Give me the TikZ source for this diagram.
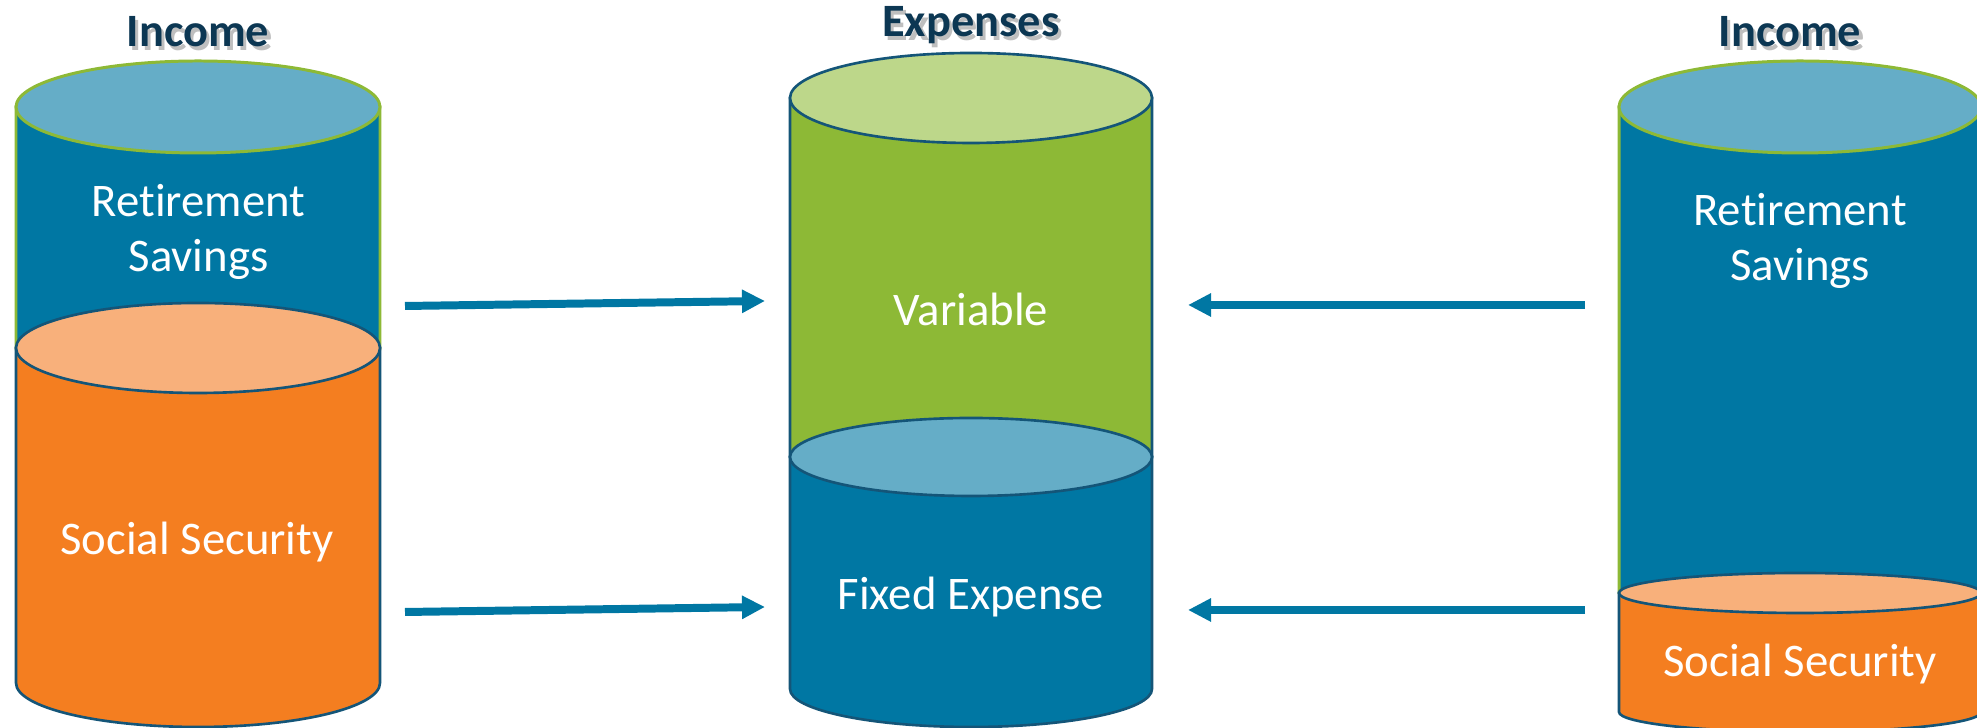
\documentclass[tikz,border=0pt]{standalone}
\usepackage{fontspec}
\setmainfont[Ligatures=NoCommon]{Carlito}
\usetikzlibrary{arrows.meta}

\definecolor{tankblue}{RGB}{0,119,163}
\definecolor{tanklightblue}{RGB}{101,173,199}
\definecolor{tankorange}{RGB}{244,126,32}
\definecolor{tanklightorange}{RGB}{248,176,123}
\definecolor{tankgreen}{RGB}{141,185,54}
\definecolor{tanklightgreen}{RGB}{189,215,138}
\definecolor{rimdark}{RGB}{20,85,120}
\definecolor{headnavy}{RGB}{12,55,83}

% heading text with a soft drop shadow
\newcommand{\shadowed}[1]{\rlap{\hspace{0.9pt}\raisebox{-0.9pt}{\color{black!25}#1}}#1}

\tikzset{
  heading/.style={font=\fontsize{13.2}{15}\selectfont\bfseries, text=headnavy, inner sep=0pt, anchor=base},
  tanklabel/.style={font=\fontsize{13.3}{15.9}\selectfont, text=white, inner sep=0pt, align=center},
  flow/.style={draw=tankblue, line width=2.27pt, -{Triangle[length=0.23cm, width=0.22cm]}},
  greenrim/.style={draw=tankgreen, line width=0.85pt},
  darkrim/.style={draw=rimdark, line width=0.75pt}
}

\begin{document}
\begin{tikzpicture}
    \useasboundingbox (0,0) rectangle (19.77,7.28);

    % left income tank
    \filldraw[greenrim, fill=tankblue] (0.16,6.21) -- (0.16,3.80) arc[start angle=180, end angle=360, x radius=1.82, y radius=0.45] -- (3.80,6.21) -- cycle;
    \filldraw[greenrim, fill=tanklightblue] (1.98,6.21) ellipse [x radius=1.82, y radius=0.46];
    \filldraw[darkrim, fill=tankorange] (0.16,3.80) -- (0.16,0.45) arc[start angle=180, end angle=360, x radius=1.82, y radius=0.44] -- (3.80,3.80) -- cycle;
    \filldraw[darkrim, fill=tanklightorange] (1.98,3.80) ellipse [x radius=1.82, y radius=0.45];

    % expenses tank
    \filldraw[darkrim, fill=tankgreen] (7.90,6.30) -- (7.90,2.71) arc[start angle=180, end angle=360, x radius=1.81, y radius=0.39] -- (11.52,6.30) -- cycle;
    \filldraw[darkrim, fill=tanklightgreen] (9.71,6.30) ellipse [x radius=1.81, y radius=0.45];
    \filldraw[darkrim, fill=tankblue] (7.90,2.71) -- (7.90,0.39) arc[start angle=180, end angle=360, x radius=1.81, y radius=0.38] -- (11.52,2.71) -- cycle;
    \filldraw[darkrim, fill=tanklightblue] (9.71,2.71) ellipse [x radius=1.81, y radius=0.39];

    % right income tank
    \filldraw[greenrim, fill=tankblue] (16.19,6.21) -- (16.19,1.35) arc[start angle=180, end angle=360, x radius=1.81, y radius=0.20] -- (19.81,6.21) -- cycle;
    \filldraw[greenrim, fill=tanklightblue] (18.00,6.21) ellipse [x radius=1.81, y radius=0.46];
    \filldraw[darkrim, fill=tankorange] (16.19,1.35) -- (16.19,0.16) arc[start angle=180, end angle=360, x radius=1.81, y radius=0.20] -- (19.81,1.35) -- cycle;
    \filldraw[darkrim, fill=tanklightorange] (18.00,1.35) ellipse [x radius=1.81, y radius=0.20];

    % headings
    \node[heading] (incomeL) at (1.98,6.81) {\shadowed{Income}};
    \node[heading] (expenses) at (9.71,6.91) {\shadowed{Expenses}};
    \node[heading] (incomeR) at (17.90,6.81) {\shadowed{Income}};

    % labels
    \node[tanklabel] (savingsL) at (1.985,4.96) {Retirement\\Savings};
    \node[tanklabel, anchor=base] (socialL) at (1.97,1.73) {Social Security};
    \node[tanklabel, anchor=base] (variable) at (9.71,4.02) {Variable};
    \node[tanklabel, anchor=base] (fixed) at (9.71,1.18) {Fixed Expense};
    \node[tanklabel] (savingsR) at (18.00,4.87) {Retirement\\Savings};
    \node[tanklabel, anchor=base] (socialR) at (18.00,0.51) {Social Security};

    % arrow ends
    \coordinate (savingsL-out) at (4.05,4.22);
    \coordinate (socialL-out) at (4.05,1.16);
    \coordinate (variable-inL) at (7.65,4.27);
    \coordinate (fixed-inL) at (7.65,1.21);
    \coordinate (savingsR-out) at (15.85,4.23);
    \coordinate (socialR-out) at (15.85,1.18);
    \coordinate (variable-inR) at (11.88,4.23);
    \coordinate (fixed-inR) at (11.88,1.18);

    \draw[flow] (savingsL-out) -- (variable-inL);
    \draw[flow] (socialL-out) -- (fixed-inL);
    \draw[flow] (savingsR-out) -- (variable-inR);
    \draw[flow] (socialR-out) -- (fixed-inR);
\end{tikzpicture}
\end{document}
